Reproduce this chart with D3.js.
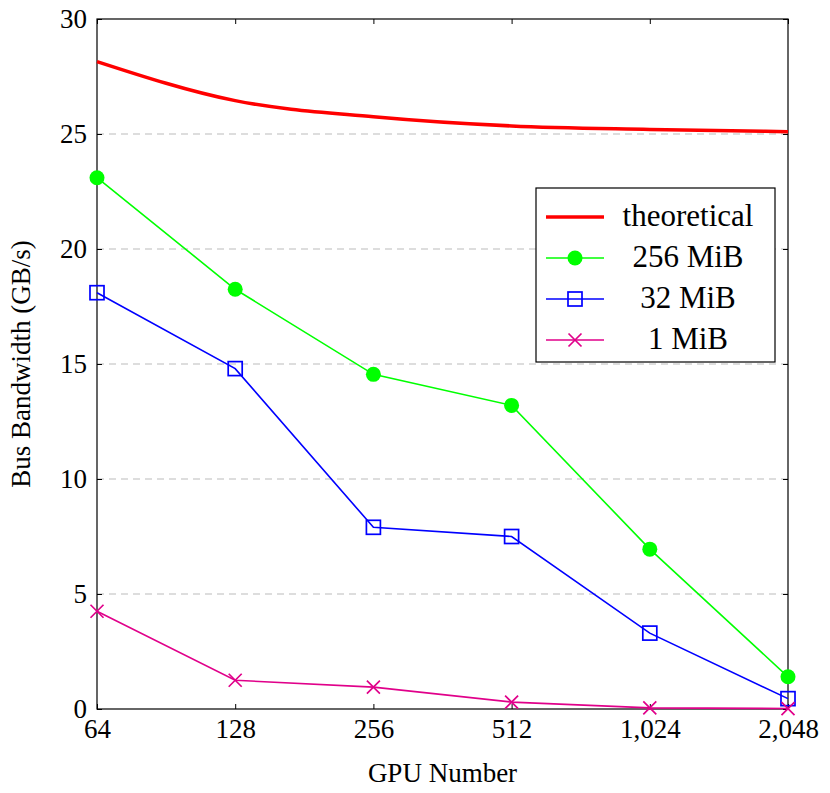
<!DOCTYPE html><html><head><script src="https://cdn.jsdelivr.net/npm/d3@7"></script>
<style>body{margin:0;background:#fff}text{font-family:"Liberation Serif",serif}</style></head><body>
<svg id="c" width="830" height="793"></svg>
<script>
const gpus=[64,128,256,512,1024,2048];
const theoretical=[28.15,26.45,25.75,25.35,25.2,25.1];
const mib256=[23.1,18.25,14.55,13.2,6.95,1.4];
const mib32=[18.1,14.8,7.9,7.5,3.3,0.45];
const mib1=[4.25,1.25,0.95,0.3,0.05,0.02];
const yTicks=[0,5,10,15,20,25,30];
const svg=d3.select("#c");
const L=97,R=788,T=19,B=709;
const x=d3.scaleLog().base(2).domain([64,2048]).range([L,R]);
const y=d3.scaleLinear().domain([0,30]).range([B,T]);
const g=svg.append("g");
g.selectAll(".gr").data([5,10,15,20,25]).enter().append("line").attr("x1",L).attr("x2",R).attr("y1",d=>y(d)).attr("y2",d=>y(d)).attr("stroke","#bbb").attr("stroke-dasharray","7,5").attr("stroke-width",1.2);
const fmt=d3.format(",");
svg.append("g").attr("transform",`translate(0,${B})`).call(d3.axisBottom(x).tickValues(gpus).tickFormat(fmt).tickSize(-5).tickPadding(10));
svg.append("g").attr("transform",`translate(${L},0)`).call(d3.axisLeft(y).tickValues(yTicks).tickSize(-5).tickPadding(10));
svg.append("g").attr("transform",`translate(0,${T})`).call(d3.axisTop(x).tickValues(gpus).tickFormat("").tickSize(-5));
svg.append("g").attr("transform",`translate(${R},0)`).call(d3.axisRight(y).tickValues(yTicks).tickFormat("").tickSize(-5));
svg.selectAll(".domain").remove();
svg.selectAll(".tick text").attr("font-size",27).attr("fill","#000").style("font-family","Liberation Serif");
svg.append("rect").attr("x",L).attr("y",T).attr("width",R-L).attr("height",B-T).attr("fill","none").attr("stroke","#000").attr("stroke-width",1.2);
function ser(vals,color,w,curve){
 const line=d3.line().x((d,i)=>x(gpus[i])).y(d=>y(d)).curve(curve||d3.curveLinear);
 svg.append("path").datum(vals).attr("d",line).attr("fill","none").attr("stroke",color).attr("stroke-width",w);
}
ser(theoretical,"#f00",3.5,d3.curveMonotoneX);
ser(mib256,"#0f0",1.6);ser(mib32,"#00f",1.6);ser(mib1,"#e0008a",1.6);
function mark(gsel,type,color,cx,cy){
 if(type=="dot")gsel.append("circle").attr("cx",cx).attr("cy",cy).attr("r",7.5).attr("fill",color);
 else if(type=="sq")gsel.append("rect").attr("x",cx-7).attr("y",cy-7).attr("width",14).attr("height",14).attr("fill","none").attr("stroke",color).attr("stroke-width",1.7);
 else{gsel.append("path").attr("d",`M${cx-6.5},${cy-6.5}L${cx+6.5},${cy+6.5}M${cx-6.5},${cy+6.5}L${cx+6.5},${cy-6.5}`).attr("stroke",color).attr("stroke-width",1.7);}
}
const mg=svg.append("g");
mib256.forEach((v,i)=>mark(mg,"dot","#0f0",x(gpus[i]),y(v)));
mib32.forEach((v,i)=>mark(mg,"sq","#00f",x(gpus[i]),y(v)));
mib1.forEach((v,i)=>mark(mg,"x","#e0008a",x(gpus[i]),y(v)));
const lg=svg.append("g");
lg.append("rect").attr("x",536).attr("y",188).attr("width",239).attr("height",174).attr("fill","#fff").attr("stroke","#000").attr("stroke-width",1.2);
const items=[["theoretical","#f00",3.5,null],["256 MiB","#0f0",1.6,"dot"],["32 MiB","#00f",1.6,"sq"],["1 MiB","#e0008a",1.6,"x"]];
items.forEach((it,i)=>{const cy=217+i*41;
 lg.append("line").attr("x1",546).attr("x2",604).attr("y1",cy).attr("y2",cy).attr("stroke",it[1]).attr("stroke-width",it[2]);
 if(it[3])mark(lg,it[3],it[1],575,cy);
 lg.append("text").attr("x",688).attr("y",cy+9).attr("text-anchor","middle").attr("font-size",31).text(it[0]);
});
svg.append("text").attr("x",(L+R)/2).attr("y",782).attr("text-anchor","middle").attr("font-size",27).text("GPU Number");
svg.append("text").attr("transform",`translate(30,${(T+B)/2}) rotate(-90)`).attr("text-anchor","middle").attr("font-size",27).text("Bus Bandwidth (GB/s)");
</script></body></html>
